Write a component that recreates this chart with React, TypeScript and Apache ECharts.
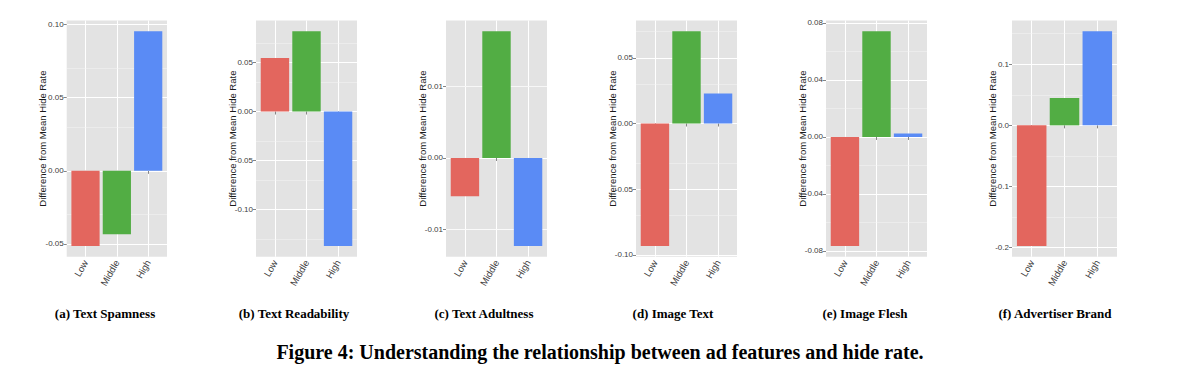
import React, { useEffect, useRef } from "react";
import * as echarts from "echarts";

// ---------- data ----------
const categories = ["Low", "Middle", "High"];
const barColors = ["#E3665E", "#52AD44", "#5A8BF5"];

const textSpamness = [-0.0514, -0.0434, 0.0955];
const textReadability = [0.0547, 0.0819, -0.1371];
const textAdultness = [-0.00536, 0.01772, -0.0123];
const imageText = [-0.0933, 0.0703, 0.0229];
const imageFlesh = [-0.0765, 0.0742, 0.0024];
const advertiserBrand = [-0.1974, 0.0448, 0.1541];

const ticksA = [-0.05, 0, 0.05, 0.1];
const ticksB = [-0.1, -0.05, 0, 0.05];
const ticksC = [-0.01, 0, 0.01];
const ticksD = [-0.1, -0.05, 0, 0.05];
const ticksE = [-0.08, -0.04, 0, 0.04, 0.08];
const ticksF = [-0.2, -0.1, 0, 0.1];

const minorA = [-0.025, 0.025, 0.075];
const minorB = [-0.125, -0.075, -0.025, 0.025, 0.075];
const minorC = [-0.005, 0.005, 0.015];
const minorD = [-0.075, -0.025, 0.025, 0.075];
const minorE = [-0.06, -0.02, 0.02, 0.06];
const minorF = [-0.15, -0.05, 0.05, 0.15];

const tickDecimals = [2, 2, 2, 2, 2, 1];

const panelCaptions = [
  "(a) Text Spamness",
  "(b) Text Readability",
  "(c) Text Adultness",
  "(d) Image Text",
  "(e) Image Flesh",
  "(f) Advertiser Brand",
];
const figureCaption =
  "Figure 4: Understanding the relationship between ad features and hide rate.";
const yAxisTitle = "Difference from Mean Hide Rate";

// ---------- layout ----------
const panelValues = [textSpamness, textReadability, textAdultness, imageText, imageFlesh, advertiserBrand];
const panelTicks = [ticksA, ticksB, ticksC, ticksD, ticksE, ticksF];
const panelMinor = [minorA, minorB, minorC, minorD, minorE, minorF];
const gridLefts = [66.7, 256, 446, 636, 826, 1012];
const gridWidths = [100.3, 101, 101, 101, 101, 105];
const nameGaps = [19, 18.5, 18.5, 18.5, 18.5, 14.5];
const captionCenters = [105, 294, 484, 673, 865, 1055];
const GRID_TOP = 20.5;
const GRID_HEIGHT = 236.2;

const SANS = "'Liberation Sans', Arial, sans-serif";
const SERIF = "'Liberation Serif', 'Times New Roman', serif";

export default function App() {
  const ref = useRef<HTMLDivElement>(null);

  useEffect(() => {
    if (!ref.current) return;
    const chart = echarts.init(ref.current, undefined, { renderer: "svg" });

    const grids: any[] = [];
    const xAxes: any[] = [];
    const yAxes: any[] = [];
    const series: any[] = [];

    panelValues.forEach((vals, i) => {
      const lo = Math.min(0, ...vals);
      const hi = Math.max(0, ...vals);
      const pad = (hi - lo) * 0.05;
      const dec = tickDecimals[i];

      grids.push({
        left: gridLefts[i],
        top: GRID_TOP,
        width: gridWidths[i],
        height: GRID_HEIGHT,
        show: true,
        backgroundColor: "#E3E3E3",
        borderWidth: 0,
      });

      xAxes.push({
        gridIndex: i,
        type: "value",
        min: 0.4,
        max: 3.6,
        axisLine: { show: false },
        axisTick: {
          show: true,
          customValues: [1, 2, 3],
          length: 3,
          lineStyle: { color: "#666", width: 0.8 },
        },
        axisLabel: {
          customValues: [1, 2, 3],
          formatter: (v: number) => categories[Math.round(v) - 1] ?? "",
          rotate: 60,
          fontSize: 9.5,
          fontFamily: SANS,
          color: "#404040",
          margin: 4,
        },
        splitLine: { show: true, lineStyle: { color: "#FFFFFF", width: 1 } },
      });

      yAxes.push({
        gridIndex: i,
        type: "value",
        min: lo - pad,
        max: hi + pad,
        axisLine: { show: false },
        axisTick: {
          show: true,
          customValues: panelTicks[i],
          length: 3,
          lineStyle: { color: "#666", width: 0.8 },
        },
        axisLabel: {
          customValues: panelTicks[i],
          formatter: (v: number) => (Math.abs(v) < 1e-12 ? 0 : v).toFixed(dec),
          fontSize: 8,
          fontFamily: SANS,
          color: "#404040",
          margin: 3,
        },
        splitLine: { show: true, lineStyle: { color: "#FFFFFF", width: 1 } },
        name: yAxisTitle,
        nameLocation: "middle",
        nameGap: nameGaps[i],
        nameMoveOverlap: false,
        nameTextStyle: { fontSize: 9.5, fontFamily: SANS, color: "#1A1A1A" },
      });

      series.push({
        type: "bar",
        xAxisIndex: i,
        yAxisIndex: i,
        barWidth: "90%",
        data: vals.map((v, j) => ({
          value: [j + 1, v],
          itemStyle: { color: barColors[j] },
        })),
        markLine: {
          silent: true,
          z: 1,
          symbol: "none",
          label: { show: false },
          lineStyle: { color: "#F4F4F4", width: 0.5, type: "solid" },
          emphasis: { disabled: true },
          data: panelMinor[i].map((v) => ({ yAxis: v })),
        },
      });
    });

    const graphics: any[] = panelCaptions.map((t, i) => ({
      type: "text",
      x: captionCenters[i],
      y: 313,
      style: {
        text: t,
        textAlign: "center",
        textVerticalAlign: "middle",
        font: `bold 13px ${SERIF}`,
        fill: "#000",
      },
    }));
    graphics.push({
      type: "text",
      x: 600,
      y: 352,
      style: {
        text: figureCaption,
        textAlign: "center",
        textVerticalAlign: "middle",
        font: `bold 20px ${SERIF}`,
        fill: "#000",
      },
    });

    chart.setOption({
      animation: false,
      backgroundColor: "#FFFFFF",
      grid: grids,
      xAxis: xAxes,
      yAxis: yAxes,
      series,
      graphic: graphics,
    });

    return () => chart.dispose();
  }, []);

  return (
    <div
      ref={ref}
      style={{ position: "absolute", left: 0, top: 0, width: 1200, height: 379 }}
    />
  );
}
